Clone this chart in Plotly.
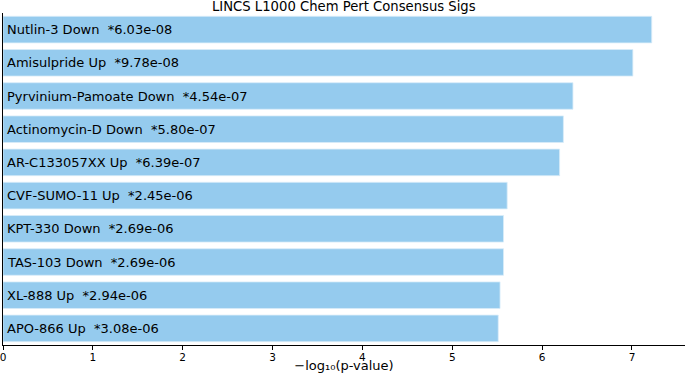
import plotly.graph_objects as go

labels = ["Nutlin-3 Down", "Amisulpride Up", "Pyrvinium-Pamoate Down", "Actinomycin-D Down",
          "AR-C133057XX Up", "CVF-SUMO-11 Up", "KPT-330 Down", "TAS-103 Down",
          "XL-888 Up", "APO-866 Up"]
pvals = [6.03e-08, 9.78e-08, 4.54e-07, 5.80e-07, 6.39e-07, 2.45e-06, 2.69e-06, 2.69e-06,
         2.94e-06, 3.08e-06]
scores = [7.2197, 7.0097, 6.3429, 6.2366, 6.1945, 5.6108, 5.5702, 5.5702, 5.5317, 5.5114]
xticks = [0, 1, 2, 3, 4, 5, 6, 7]

n = len(labels)
ypos = list(range(n))

fig = go.Figure()
fig.add_trace(go.Bar(
    x=scores, y=ypos, orientation="h", width=0.8,
    marker=dict(color="#95CBEE", line=dict(color="#D8ECF9", width=0.8)),
    hoverinfo="skip",
))

for i, (lab, p) in enumerate(zip(labels, pvals)):
    fig.add_annotation(x=0, y=i, xref="x", yref="y", text=f"{lab}  *{p:.2e}",
                       showarrow=False, xanchor="left", yanchor="middle", xshift=2,
                       font=dict(family="DejaVu Sans", size=13, color="black"))

fig.add_annotation(x=0.5, y=1, xref="paper", yref="paper", yshift=7,
                   text="LINCS L1000 Chem Pert Consensus Sigs", showarrow=False,
                   xanchor="center", yanchor="middle", borderpad=0,
                   font=dict(family="DejaVu Sans", size=13.2, color="black"))

fig.update_layout(
    width=685, height=373,
    margin=dict(l=3, r=0, t=13, b=28, autoexpand=False),
    plot_bgcolor="white", paper_bgcolor="white",
    showlegend=False,
    xaxis=dict(range=[0, 7.59], tickvals=xticks, ticks="outside", ticklen=3.5, tickwidth=1,
               tickcolor="black", showline=True, linecolor="black", linewidth=1,
               showgrid=False, zeroline=False, automargin=False,
               ticklabeloverflow="allow", ticklabelstandoff=-1,
               tickfont=dict(family="DejaVu Sans", size=10.5, color="black"),
               title=dict(text="−log₁₀(p-value)", standoff=1,
                          font=dict(family="DejaVu Sans", size=13, color="black"))),
    yaxis=dict(range=[n - 0.5, -0.5], showticklabels=False, ticks="", showline=True,
               linecolor="black", linewidth=1, showgrid=False, zeroline=False,
               automargin=False),
)

fig.write_html("out.html", config={"displayModeBar": False},
               post_script="document.body.style.margin='0';")
